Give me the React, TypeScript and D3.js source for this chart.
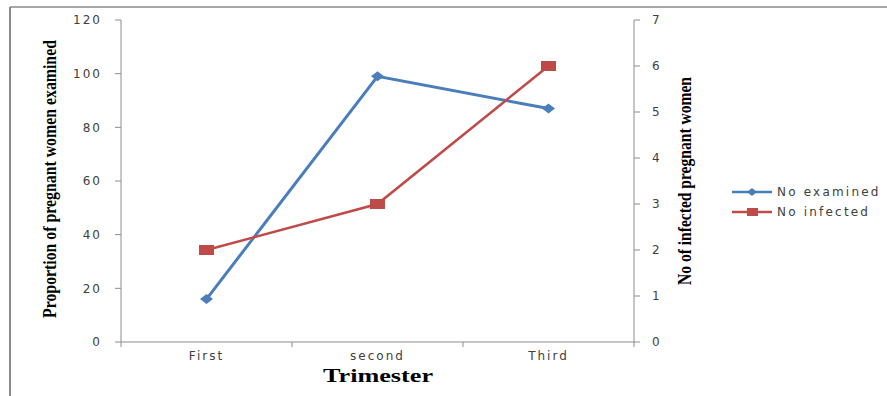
import React, { useLayoutEffect, useRef, useState } from "react";
import * as d3 from "d3";

const categories = ["First", "second", "Third"];
const examined = [16, 99, 87];
const infected = [2, 3, 6];
const leftTicks = [0, 20, 40, 60, 80, 100, 120];
const rightTicks = [0, 1, 2, 3, 4, 5, 6, 7];
const seriesNames = ["No examined", "No infected"];

const BLUE = "#4A7EBB";
const RED = "#BE4B48";
const AXIS = "#8c8c8c";
const TXT = "#404040";

export default function App() {
  const W = 887, H = 396;
  const left = 121, right = 634, top = 20, bottom = 342;
  const x = d3.scaleBand().domain(categories).range([left, right]);
  const yL = d3.scaleLinear().domain([0, 120]).range([bottom, top]);
  const yR = d3.scaleLinear().domain([0, 7]).range([bottom, top]);
  const cx = (c: string) => (x(c) as number) + x.bandwidth() / 2;
  const lineL = d3.line<number>().x((_, i) => cx(categories[i])).y(d => yL(d));
  const lineR = d3.line<number>().x((_, i) => cx(categories[i])).y(d => yR(d));
  const diamond = (px: number, py: number, w: number, h: number) =>
    `M${px - w / 2},${py}L${px},${py - h / 2}L${px + w / 2},${py}L${px},${py + h / 2}Z`;
  const tickFont = { fontFamily: "'DejaVu Sans', sans-serif", fontSize: 12, letterSpacing: 2, fill: TXT };
  const catBounds = [left, ...categories.map(c => (x(c) as number) + x.bandwidth())];

  const lRef = useRef<SVGTextElement>(null);
  const rRef = useRef<SVGTextElement>(null);
  const tRef = useRef<SVGTextElement>(null);
  const [sc, setSc] = useState({ l: 0.86, r: 0.86, t: 1.3 });
  useLayoutEffect(() => {
    const l = lRef.current ? lRef.current.getComputedTextLength() : 0;
    const r = rRef.current ? rRef.current.getComputedTextLength() : 0;
    const t = tRef.current ? tRef.current.getComputedTextLength() : 0;
    setSc({ l: l ? 278 / l : 0.86, r: r ? 208 / r : 0.86, t: t ? 110 / t : 1.3 });
  }, []);
  const titleStyle = { fontFamily: "'Liberation Serif', serif", fontWeight: "bold" as const, fontSize: 19, fill: "#000" };

  return (
    <svg width={W} height={H} style={{ position: "absolute", left: 0, top: 0, background: "#fff" }}>
      <rect x={0} y={0} width={W} height={H} fill="#fff" />
      <line x1={10} y1={7} x2={W} y2={7} stroke="#8a8a8a" strokeWidth={1.5} />
      <line x1={10} y1={7} x2={10} y2={H} stroke="#8a8a8a" strokeWidth={2} />

      {/* axes */}
      <line x1={left} y1={top} x2={left} y2={bottom} stroke={AXIS} strokeWidth={1} />
      <line x1={right} y1={top} x2={right} y2={bottom} stroke={AXIS} strokeWidth={1} />
      <line x1={left} y1={bottom} x2={right} y2={bottom} stroke={AXIS} strokeWidth={1} />
      {leftTicks.map(t => (
        <g key={"l" + t}>
          <line x1={left - 6} x2={left} y1={yL(t)} y2={yL(t)} stroke={AXIS} />
          <text x={102} y={yL(t)} dy="0.35em" textAnchor="end" style={tickFont}>{t}</text>
        </g>
      ))}
      {rightTicks.map(t => (
        <g key={"r" + t}>
          <line x1={right} x2={right + 6} y1={yR(t)} y2={yR(t)} stroke={AXIS} />
          <text x={652} y={yR(t)} dy="0.35em" textAnchor="start" style={tickFont}>{t}</text>
        </g>
      ))}
      {catBounds.map((b, i) => (
        <line key={"cb" + i} x1={b} x2={b} y1={bottom} y2={bottom + 5} stroke={AXIS} />
      ))}
      {categories.map(c => (
        <text key={c} x={cx(c)} y={360} textAnchor="middle" style={tickFont}>{c}</text>
      ))}

      {/* titles */}
      <text ref={tRef} transform={`translate(378,382) scale(${sc.t},1)`} textAnchor="middle" style={titleStyle}>
        Trimester
      </text>
      <text ref={lRef} transform={`translate(56,179) rotate(-90) scale(${sc.l},1)`} textAnchor="middle" style={titleStyle}>
        Proportion of pregnant women examined
      </text>
      <text ref={rRef} transform={`translate(691,181) rotate(-90) scale(${sc.r},1)`} textAnchor="middle" style={titleStyle}>
        No of infected pregnant women
      </text>

      {/* series */}
      <path d={lineL(examined) || ""} fill="none" stroke={BLUE} strokeWidth={3} />
      <path d={lineR(infected) || ""} fill="none" stroke={RED} strokeWidth={2.5} />
      {examined.map((v, i) => (
        <path key={"d" + i} d={diamond(cx(categories[i]), yL(v), 13, 10)} fill={BLUE} />
      ))}
      {infected.map((v, i) => (
        <rect key={"s" + i} x={cx(categories[i]) - 7.5} y={yR(v) - 5} width={15} height={10} fill={RED} />
      ))}

      {/* legend */}
      <g>
        <line x1={732} x2={772} y1={192} y2={192} stroke={BLUE} strokeWidth={2.5} />
        <path d={diamond(752, 192, 10, 8)} fill={BLUE} />
        <text x={777} y={192} dy="0.35em" style={{ ...tickFont, fontSize: 12, letterSpacing: 2.2 }}>{seriesNames[0]}</text>
        <line x1={732} x2={772} y1={212} y2={212} stroke={RED} strokeWidth={2.5} />
        <rect x={747} y={208} width={11} height={8} fill={RED} />
        <text x={777} y={212} dy="0.35em" style={{ ...tickFont, fontSize: 12, letterSpacing: 2.2 }}>{seriesNames[1]}</text>
      </g>
    </svg>
  );
}
